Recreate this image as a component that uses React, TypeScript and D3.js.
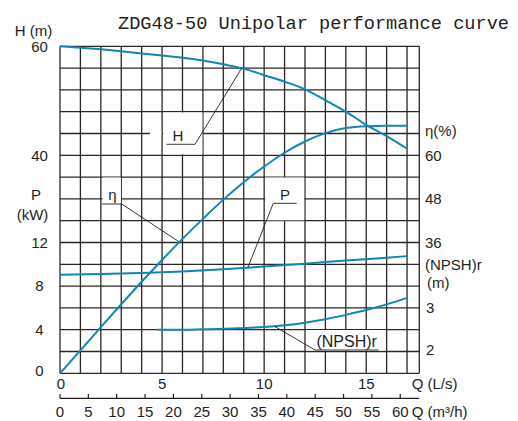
import React from "react";
import * as d3 from "d3";

// ---- data (Q in L/s) ----
const headFlow = [0, 1, 2, 3, 4, 5, 6, 7, 8, 9, 10, 11, 12, 13, 14, 15, 16, 17];
const headVal = [60, 59.75, 59.45, 59.1, 58.7, 58.3, 57.9, 57.4, 56.7, 55.9, 54.7, 53.5, 52.1, 50.1, 48, 45.6, 43.5, 41.2];

const etaFlow = [0, 1, 2, 3, 4, 5, 6, 7, 8, 9, 10, 11, 12, 13, 14, 15, 16, 17];
const etaVal = [0, 6.3, 12.7, 19, 25.2, 31.2, 37, 42.5, 47.8, 52.6, 56.9, 60.7, 63.8, 66.1, 67.5, 68, 68.1, 68.1];

const powerFlow = [0, 2, 4, 6, 8, 10, 12, 14, 16, 17];
const powerVal = [9.05, 9.1, 9.2, 9.35, 9.55, 9.8, 10.05, 10.35, 10.6, 10.75];

const npshFlow = [4.75, 6, 7, 8, 9, 10, 11, 12, 13, 14, 15, 16, 17];
const npshVal = [2.5, 2.5, 2.51, 2.52, 2.54, 2.56, 2.6, 2.66, 2.74, 2.84, 2.95, 3.08, 3.23];

const headTicks = [60, 40];
const powerTicks = [12, 8, 4, 0];
const etaTicks = [60, 48, 36];
const npshTicks = [3, 2];
const qTicks = [0, 5, 10, 15];
const qm3Ticks = [0, 5, 10, 15, 20, 25, 30, 35, 40, 45, 50, 55, 60];

const TITLE = "ZDG48-50 Unipolar performance curve";

const BLUE = "#0f86b4";
const GRID = "#2e2624";
const SANS = "'Liberation Sans', Arial, sans-serif";

function interp(xs: number[], ys: number[], q: number) {
  return d3.scaleLinear().domain(xs).range(ys)(q);
}

export default function App() {
  const left = 60, right = 419.3, top = 46.3, bottom = 373.3;
  const x = d3.scaleLinear().domain([0, 17.6]).range([left, right]);
  const xm3 = d3.scaleLinear().domain([0, 17.6 * 3.6]).range([left, right]);
  const yH = d3.scaleLinear().domain([0, 60]).range([bottom, top]);
  const yP = d3.scaleLinear().domain([0, 30]).range([bottom, top]);
  const yE = d3.scaleLinear().domain([0, 90]).range([bottom, top]);
  const yN = d3.scaleLinear().domain([1.5, 9]).range([bottom, top]);

  const vLines = d3.range(0, 18).map((q) => x(q)).concat([right]);
  const hLines = d3.range(0, 61, 4).map((h) => yH(h));

  const mk = (xs: number[], ys: number[], ys2: (v: number) => number) =>
    d3
      .line<number>()
      .x((_, i) => x(xs[i]))
      .y((v) => ys2(v))
      .curve(d3.curveMonotoneX)(ys) as string;

  const hPath = mk(headFlow, headVal, yH);
  const ePath = mk(etaFlow, etaVal, yE);
  const pPath = mk(powerFlow, powerVal, yP);
  const nPath = mk(npshFlow, npshVal, yN);

  // leader targets on curves
  const hq = 8.9, eq = 5.85, pq = 9.2, nq = 10.5;
  const hPt = [x(hq), yH(interp(headFlow, headVal, hq))];
  const ePt = [x(eq), yE(interp(etaFlow, etaVal, eq))];
  const pPt = [x(pq), yP(interp(powerFlow, powerVal, pq))];
  const nPt = [x(nq), yN(interp(npshFlow, npshVal, nq))];

  const lbl = { fontFamily: SANS, fontSize: 15, fill: "#231f20" } as const;

  return (
    <svg
      width={518}
      height={421}
      style={{ position: "absolute", left: 0, top: 0, background: "#fff" }}
    >
      <rect x={0} y={0} width={518} height={421} fill="#fff" />
      {/* title */}
      <text
        x={118}
        y={28.5}
        fontFamily="'Liberation Mono', 'DejaVu Sans Mono', monospace"
        fontSize={18.6}
        textLength={391}
        lengthAdjust="spacingAndGlyphs"
        fill="#231f20"
      >
        {TITLE}
      </text>

      {/* grid */}
      <g stroke={GRID} strokeWidth={1.3}>
        {vLines.map((vx, i) => (
          <line key={"v" + i} x1={vx} x2={vx} y1={top} y2={bottom} />
        ))}
        {hLines.map((hy, i) => (
          <line key={"h" + i} x1={left} x2={right} y1={hy} y2={hy} />
        ))}
      </g>

      {/* label backgrounds (grid cut-outs) */}
      <g fill="#fff">
        <rect x={163.2} y={112.5} width={39.2} height={41.8} />
        <rect x={150} y={131.5} width={11.5} height={3.6} />
        <rect x={102.5} y={177.5} width={18.4} height={26} />
        <rect x={265.2} y={177.5} width={39} height={42.8} />
        <rect x={306} y={330} width={80} height={20.5} />
      </g>

      {/* curves */}
      <g fill="none" stroke={BLUE} strokeWidth={2}>
        <path d={hPath} />
        <path d={ePath} />
        <path d={pPath} />
        <path d={nPath} />
      </g>

      {/* leaders */}
      <g stroke="#231f20" strokeWidth={0.9} fill="none">
        <polyline points={`166.7,144.3 195,144.3 ${hPt[0]},${hPt[1]}`} />
        <polyline points={`101.7,204 121.7,204 ${ePt[0]},${ePt[1]}`} />
        <polyline points={`296.7,203.3 273.3,203.3 ${pPt[0]},${pPt[1]}`} />
        <polyline points={`378.5,350 315,350 ${nPt[0]},${nPt[1]}`} />
      </g>
      <text {...lbl} x={178} y={140.7} textAnchor="middle">H</text>
      <text {...lbl} x={112.5} y={200} textAnchor="middle">η</text>
      <text {...lbl} x={285} y={200} textAnchor="middle">P</text>
      <text {...lbl} x={346.7} y={346.5} textAnchor="middle" fontSize={16}>(NPSH)r</text>

      {/* left axis labels */}
      <text {...lbl} x={33.5} y={36} textAnchor="middle">H (m)</text>
      {headTicks.map((t) => (
        <text key={"ht" + t} {...lbl} x={39.5} y={yH(t) + 5.3} textAnchor="middle">{t}</text>
      ))}
      <text {...lbl} x={36} y={200} textAnchor="middle">P</text>
      <text {...lbl} x={32.5} y={220} textAnchor="middle">(kW)</text>
      {powerTicks.map((t) => (
        <text key={"pt" + t} {...lbl} x={39.5} y={yP(t) + 5.3 - (t === 0 ? 2.3 : 0)} textAnchor="middle">{t}</text>
      ))}

      {/* right axis labels */}
      <text {...lbl} x={425} y={136}>η(%)</text>
      {etaTicks.map((t) => (
        <text key={"et" + t} {...lbl} x={425} y={yE(t) + 5.3}>{t}</text>
      ))}
      <text {...lbl} x={425} y={269.5}>(NPSH)r</text>
      <text {...lbl} x={427} y={288}>(m)</text>
      {npshTicks.map((t) => (
        <text key={"nt" + t} {...lbl} x={426} y={yN(t) + 5.3 - (t === 2 ? 1.5 : 0)}>{t}</text>
      ))}

      {/* bottom Q (L/s) labels */}
      {qTicks.map((t) => (
        <text key={"q" + t} {...lbl} x={x(t) + (t === 0 ? 1 : 0)} y={388.5} textAnchor="middle">{t}</text>
      ))}
      <text {...lbl} x={411.7} y={389}>Q (L/s)</text>

      {/* m3/h axis */}
      <g stroke="#231f20" strokeWidth={1.2}>
        <line x1={left} x2={right} y1={398.3} y2={398.3} />
        {qm3Ticks.map((t) => (
          <line key={"m" + t} x1={xm3(t)} x2={xm3(t)} y1={394} y2={398.3} />
        ))}
      </g>
      {qm3Ticks.map((t) => (
        <text key={"mt" + t} {...lbl} x={xm3(t)} y={416.5} textAnchor="middle">{t}</text>
      ))}
      <text {...lbl} x={411.7} y={416.5}>Q (m³/h)</text>
    </svg>
  );
}
